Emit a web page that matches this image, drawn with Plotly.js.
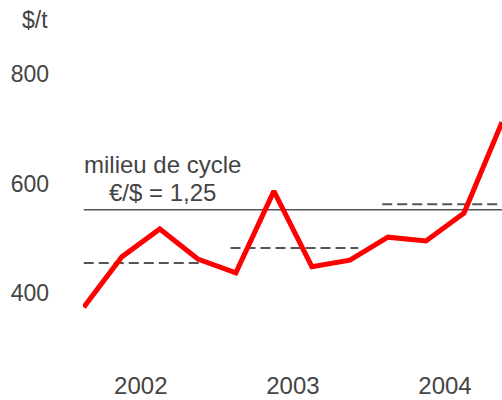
<!DOCTYPE html>
<html>
<head>
<meta charset="utf-8">
<script src="https://cdn.plot.ly/plotly-3.0.1.min.js"></script>
<style>html,body{margin:0;padding:0;background:#fff;}#chart{width:502px;height:400px;}</style>
</head>
<body>
<div id="chart"></div>
<script>
// Quarterly prices, $/t, 2002 Q1 .. 2004 Q4 (quarter index 0..11)
const quarters = [0,1,2,3,4,5,6,7,8,9,10,11];
const prices = [374,466,517,462,437,586,448,460,502,495,546,712];
const yearTickVals = [1.5,5.5,9.5];
const yearLabels = ["2002","2003","2004"];
// Mid-cycle reference (€/$ = 1,25)
const midCycleX = [0,11];
const midCycleY = [552,552];
// Yearly averages (dashed)
const avg2002X = [0,3.26], avg2002Y = [455,455];
const avg2003X = [3.86,7.22], avg2003Y = [482,482];
const avg2004X = [7.85,11], avg2004Y = [562,562];

const grey = '#555555';
const textGrey = '#444444';
const dashed = (x,y) => ({x:x, y:y, type:'scatter', mode:'lines', line:{color:grey, width:2, dash:'10px,5px'}, hoverinfo:'skip', showlegend:false});

const data = [
  {x:midCycleX, y:midCycleY, type:'scatter', mode:'lines', line:{color:grey, width:1.5}, showlegend:false},
  dashed(avg2002X, avg2002Y),
  dashed(avg2003X, avg2003Y),
  dashed(avg2004X, avg2004Y),
  {x:quarters, y:prices, type:'scatter', mode:'lines', line:{color:'#ff0000', width:5}, showlegend:false}
];

const layout = {
  width:502, height:400,
  margin:{l:83, r:0, t:0, b:50},
  paper_bgcolor:'#fff', plot_bgcolor:'#fff',
  font:{family:'"Liberation Sans", Arial, sans-serif', color:textGrey},
  xaxis:{range:[-0.02,11], tickvals:yearTickVals, ticktext:yearLabels, showgrid:false, zeroline:false, showline:false, ticks:'', tickfont:{size:24, color:textGrey}, ticklabelstandoff:19},
  yaxis:{range:[295.9,935.2], tickvals:[400,600,800], showgrid:false, zeroline:false, showline:false, ticks:'', tickfont:{size:23, color:textGrey}, ticklabelstandoff:33},
  annotations:[
    {xref:'paper', yref:'paper', x:(35-83)/419, y:1-20/350, text:'$/t', showarrow:false, font:{size:23, color:textGrey}, xanchor:'center', yanchor:'middle'},
    {x:2.07, y:634, text:'milieu de cycle', showarrow:false, font:{size:24, color:textGrey}, xanchor:'center', yanchor:'middle'},
    {x:2.07, y:583, text:'€/$ = 1,25', showarrow:false, font:{size:24, color:textGrey}, xanchor:'center', yanchor:'middle'}
  ]
};
Plotly.newPlot('chart', data, layout, {displayModeBar:false, staticPlot:true});
</script>
</body>
</html>
